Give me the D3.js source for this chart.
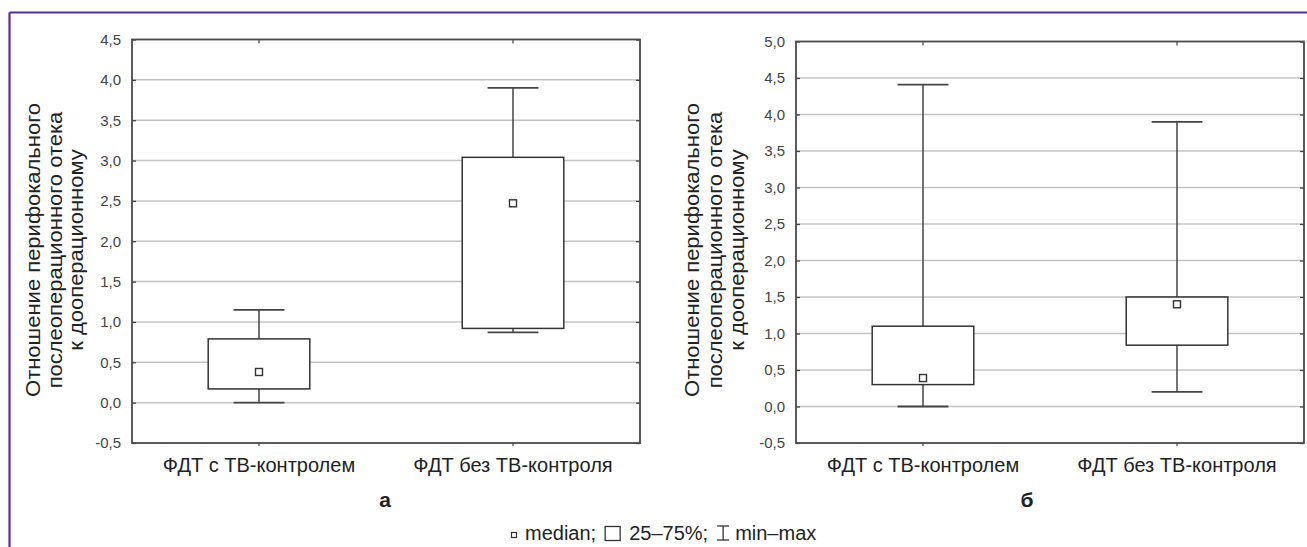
<!DOCTYPE html>
<html>
<head>
<meta charset="utf-8">
<script src="https://cdn.jsdelivr.net/npm/d3@7"></script>
<style>
  body { margin: 0; background: #fff; }
  svg { display: block; }
  text { font-family: "Liberation Sans", Arial, sans-serif; }
</style>
</head>
<body>
<svg id="chart" width="1307" height="547"></svg>
<script>
// categories and box statistics
var categories = ["ФДТ с ТВ-контролем", "ФДТ без ТВ-контроля"];

var minA = [0.00, 0.87], q1A = [0.17, 0.92], medA = [0.38, 2.47], q3A = [0.79, 3.04], maxA = [1.15, 3.90];
var minB = [0.00, 0.20], q1B = [0.30, 0.84], medB = [0.39, 1.40], q3B = [1.10, 1.50], maxB = [4.41, 3.90];

var ticksA = [-0.5, 0, 0.5, 1, 1.5, 2, 2.5, 3, 3.5, 4, 4.5];
var ticksB = [-0.5, 0, 0.5, 1, 1.5, 2, 2.5, 3, 3.5, 4, 4.5, 5];

var titleLines = ["Отношение перифокального", "послеоперационного отека", "к дооперационному"];
var panelLetters = ["а", "б"];
var legendItems = ["median;", "25–75%;", "min–max"];

var svg = d3.select("#chart");
// comma decimals and a plain hyphen for negatives
var fmt = function (v) { return d3.format(".1f")(v).replace(".", ",").replace("−", "-"); };

// purple frame, open on the right and bottom
svg.append("line").attr("x1", 9.5).attr("x2", 1307).attr("y1", 12.5).attr("y2", 12.5)
    .attr("stroke", "#5b2d91").attr("stroke-width", 2.2);
svg.append("line").attr("x1", 9.5).attr("x2", 9.5).attr("y1", 12.5).attr("y2", 547)
    .attr("stroke", "#5b2d91").attr("stroke-width", 2.2);

function drawPanel (opt) {
    var g = svg.append("g");
    var x = d3.scaleBand().domain(categories).range([opt.left, opt.right]).padding(0);
    var y = d3.scaleLinear().domain([opt.ticks[0], opt.ticks[opt.ticks.length - 1]]).range([opt.bottom, opt.top]);
    var bw = x.bandwidth();
    var cx = function (c) { return x(c) + bw / 2; };

    // gridlines
    g.selectAll(".grid").data(opt.ticks.slice(1, -1)).enter().append("line")
        .attr("x1", opt.left).attr("x2", opt.right)
        .attr("y1", function (d) { return y(d); }).attr("y2", function (d) { return y(d); })
        .attr("stroke", "#c4c4c4").attr("stroke-width", 1.5);

    // y axis labels and inner ticks
    var yAxis = d3.axisLeft(y).tickValues(opt.ticks).tickFormat(fmt).tickSize(-4).tickPadding(11);
    var ya = g.append("g").attr("transform", "translate(" + opt.left + ",0)").call(yAxis);
    ya.select(".domain").remove();
    ya.selectAll("line").attr("stroke", "#444").attr("stroke-width", 1.3);
    ya.selectAll("text").attr("fill", "#444").style("font-size", "15px")
        .style("font-family", "'Liberation Sans', Arial, sans-serif");

    var yr = d3.axisRight(y).tickValues(opt.ticks).tickFormat("").tickSize(-4);
    var yra = g.append("g").attr("transform", "translate(" + opt.right + ",0)").call(yr);
    yra.select(".domain").remove();
    yra.selectAll("line").attr("stroke", "#444").attr("stroke-width", 1.3);

    // x axis labels and ticks
    var xAxis = d3.axisBottom(x).tickSize(3).tickPadding(12);
    var xa = g.append("g").attr("transform", "translate(0," + opt.bottom + ")").call(xAxis);
    xa.select(".domain").remove();
    xa.selectAll("line").attr("stroke", "#444").attr("stroke-width", 1.2);
    xa.selectAll("text").attr("fill", "#222").style("font-size", "20px")
        .style("font-family", "'Liberation Sans', Arial, sans-serif");
    var xt = d3.axisTop(x).tickSize(-4).tickFormat("");
    var xta = g.append("g").attr("transform", "translate(0," + opt.top + ")").call(xt);
    xta.select(".domain").remove();
    xta.selectAll("line").attr("stroke", "#444").attr("stroke-width", 1.2);

    // plot border
    g.append("rect").attr("x", opt.left).attr("y", opt.top)
        .attr("width", opt.right - opt.left).attr("height", opt.bottom - opt.top)
        .attr("fill", "none").attr("stroke", "#4a4a4a").attr("stroke-width", 1.8);

    // boxes
    var rows = categories.map(function (c, i) {
        return { cat: c, min: opt.min[i], q1: opt.q1[i], med: opt.med[i], q3: opt.q3[i], max: opt.max[i] };
    });
    var box = g.selectAll(".box").data(rows).enter().append("g");
    box.append("line")
        .attr("x1", function (d) { return cx(d.cat); }).attr("x2", function (d) { return cx(d.cat); })
        .attr("y1", function (d) { return y(d.max); }).attr("y2", function (d) { return y(d.min); })
        .attr("stroke", "#444").attr("stroke-width", 1.5);
    ["min", "max"].forEach(function (k) {
        box.append("line")
            .attr("x1", function (d) { return cx(d.cat) - bw * 0.1; })
            .attr("x2", function (d) { return cx(d.cat) + bw * 0.1; })
            .attr("y1", function (d) { return y(d[k]); }).attr("y2", function (d) { return y(d[k]); })
            .attr("stroke", "#444").attr("stroke-width", 1.8);
    });
    box.append("rect")
        .attr("x", function (d) { return cx(d.cat) - bw * 0.2; })
        .attr("width", bw * 0.4)
        .attr("y", function (d) { return y(d.q3); })
        .attr("height", function (d) { return y(d.q1) - y(d.q3); })
        .attr("fill", "#fff").attr("stroke", "#333").attr("stroke-width", 1.5);
    box.append("rect")
        .attr("x", function (d) { return cx(d.cat) - 3.5; })
        .attr("y", function (d) { return y(d.med) - 3.5; })
        .attr("width", 7).attr("height", 7)
        .attr("fill", "#fff").attr("stroke", "#333").attr("stroke-width", 1.4);

    // y title (stretched along its length like the original)
    titleLines.forEach(function (t, i) {
        g.append("text")
            .attr("transform", "translate(" + opt.titleX[i] + "," + opt.titleY + ") rotate(-90) scale(1.1,1)")
            .attr("text-anchor", "middle").attr("dy", "0.35em")
            .style("font-size", "20px").attr("fill", "#222")
            .text(t);
    });

    // panel letter
    g.append("text").attr("x", opt.letterX).attr("y", 507)
        .attr("text-anchor", "middle").style("font-size", "21px").style("font-weight", "bold")
        .attr("fill", "#222").text(opt.letter);
}

drawPanel({ left: 132, right: 640, top: 39.5, bottom: 443, ticks: ticksA,
    min: minA, q1: q1A, med: medA, q3: q3A, max: maxA,
    titleX: [33, 55, 76], titleY: 250, letter: panelLetters[0], letterX: 385 });
drawPanel({ left: 796, right: 1304, top: 41.5, bottom: 443, ticks: ticksB,
    min: minB, q1: q1B, med: medB, q3: q3B, max: maxB,
    titleX: [692, 715, 737], titleY: 250, letter: panelLetters[1], letterX: 1027 });

// legend
var lg = svg.append("g");
var lx = 511, ly = 540, fs = "20px";
lg.append("rect").attr("x", lx + 0.5).attr("y", ly - 7.5).attr("width", 5).attr("height", 5)
    .attr("fill", "#fff").attr("stroke", "#333").attr("stroke-width", 1.2);
lx += 14;
var t1 = lg.append("text").attr("x", lx).attr("y", ly).style("font-size", fs).attr("fill", "#222").text(legendItems[0]);
lx += t1.node().getComputedTextLength() + 9;
lg.append("rect").attr("x", lx).attr("y", ly - 13.5).attr("width", 15).attr("height", 14)
    .attr("fill", "#fff").attr("stroke", "#333").attr("stroke-width", 1.3);
lx += 24;
var t2 = lg.append("text").attr("x", lx).attr("y", ly).style("font-size", fs).attr("fill", "#222").text(legendItems[1]);
lx += t2.node().getComputedTextLength() + 8;
var wg = lg.append("g").attr("stroke", "#333").attr("stroke-width", 1.3);
wg.append("line").attr("x1", lx + 7).attr("x2", lx + 7).attr("y1", ly - 14).attr("y2", ly);
wg.append("line").attr("x1", lx + 1).attr("x2", lx + 13).attr("y1", ly - 14).attr("y2", ly - 14);
wg.append("line").attr("x1", lx + 1).attr("x2", lx + 13).attr("y1", ly).attr("y2", ly);
lx += 19;
lg.append("text").attr("x", lx).attr("y", ly).style("font-size", fs).attr("fill", "#222").text(legendItems[2]);
</script>
</body>
</html>
